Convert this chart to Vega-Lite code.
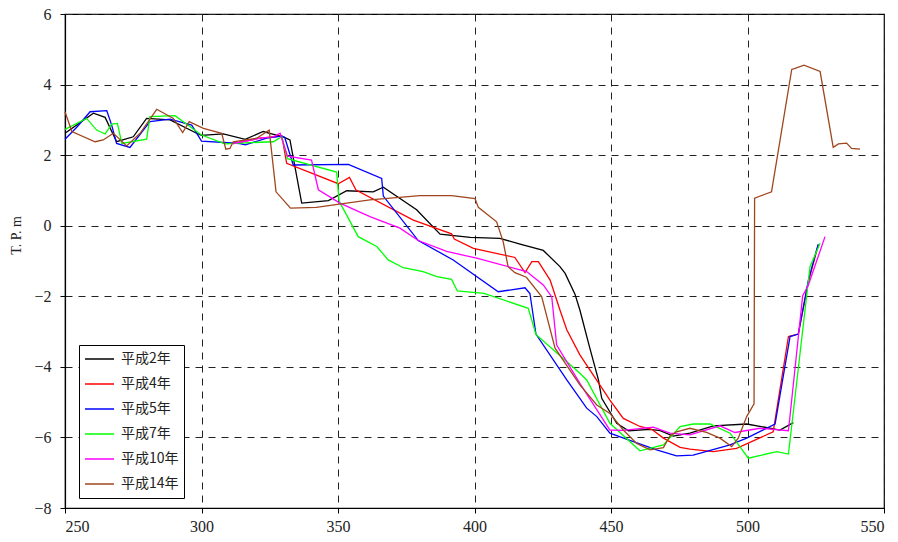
{
  "$schema": "https://vega.github.io/schema/vega-lite/v6.json",
  "width": 819,
  "height": 494,
  "autosize": {"type": "none"},
  "padding": {"left": 65, "top": 14, "right": 14, "bottom": 34},
  "background": "white",
  "config": {
    "view": {"stroke": "black", "strokeWidth": 1.2},
    "font": "Liberation Serif",
    "axis": {
      "domainColor": "black",
      "domainWidth": 1.2,
      "tickColor": "black",
      "tickSize": 5,
      "tickWidth": 1,
      "labelColor": "#222",
      "grid": true,
      "gridColor": "#222",
      "gridDash": [7, 6],
      "gridWidth": 1,
      "titleColor": "#222",
      "titleFontWeight": "normal"
    }
  },
  "data": {
    "values": [
      {"s": "平成2年", "d": 250, "h": 2.62},
      {"s": "平成2年", "d": 260.4, "h": 3.19},
      {"s": "平成2年", "d": 264.7, "h": 3.07},
      {"s": "平成2年", "d": 268.9, "h": 2.38},
      {"s": "平成2年", "d": 275, "h": 2.52},
      {"s": "平成2年", "d": 279.9, "h": 3.04},
      {"s": "平成2年", "d": 288.5, "h": 3.0},
      {"s": "平成2年", "d": 298.2, "h": 2.62},
      {"s": "平成2年", "d": 300, "h": 2.56},
      {"s": "平成2年", "d": 308, "h": 2.6},
      {"s": "平成2年", "d": 316, "h": 2.45},
      {"s": "平成2年", "d": 322.6, "h": 2.67},
      {"s": "平成2年", "d": 325, "h": 2.62},
      {"s": "平成2年", "d": 330, "h": 2.52},
      {"s": "平成2年", "d": 332.4, "h": 2.43},
      {"s": "平成2年", "d": 336.7, "h": 0.64},
      {"s": "平成2年", "d": 346.5, "h": 0.71},
      {"s": "平成2年", "d": 353.2, "h": 0.99},
      {"s": "平成2年", "d": 362.9, "h": 0.96},
      {"s": "平成2年", "d": 366.6, "h": 1.09},
      {"s": "平成2年", "d": 378.8, "h": 0.45},
      {"s": "平成2年", "d": 387.4, "h": -0.24},
      {"s": "平成2年", "d": 398.4, "h": -0.33},
      {"s": "平成2年", "d": 409.3, "h": -0.36},
      {"s": "平成2年", "d": 416.7, "h": -0.52},
      {"s": "平成2年", "d": 425.2, "h": -0.7},
      {"s": "平成2年", "d": 431.3, "h": -1.16},
      {"s": "平成2年", "d": 433.2, "h": -1.35},
      {"s": "平成2年", "d": 436.8, "h": -1.94},
      {"s": "平成2年", "d": 438.6, "h": -2.39},
      {"s": "平成2年", "d": 442, "h": -3.4},
      {"s": "平成2年", "d": 445.4, "h": -4.37},
      {"s": "平成2年", "d": 446.6, "h": -4.89},
      {"s": "平成2年", "d": 452.1, "h": -5.6},
      {"s": "平成2年", "d": 456.4, "h": -5.81},
      {"s": "平成2年", "d": 464.3, "h": -5.77},
      {"s": "平成2年", "d": 468, "h": -5.81},
      {"s": "平成2年", "d": 472.8, "h": -5.96},
      {"s": "平成2年", "d": 478.9, "h": -5.88},
      {"s": "平成2年", "d": 487.5, "h": -5.67},
      {"s": "平成2年", "d": 499.7, "h": -5.62},
      {"s": "平成2年", "d": 511.9, "h": -5.79},
      {"s": "平成2年", "d": 516.8, "h": -5.58},

      {"s": "平成4年", "d": 311.6, "h": 2.33},
      {"s": "平成4年", "d": 321.4, "h": 2.48},
      {"s": "平成4年", "d": 326.3, "h": 2.52},
      {"s": "平成4年", "d": 329.4, "h": 2.55},
      {"s": "平成4年", "d": 331.2, "h": 1.77},
      {"s": "平成4年", "d": 350.1, "h": 1.19},
      {"s": "平成4年", "d": 354.2, "h": 1.37},
      {"s": "平成4年", "d": 356.6, "h": 1.01},
      {"s": "平成4年", "d": 377.6, "h": 0.16},
      {"s": "平成4年", "d": 391.6, "h": -0.23},
      {"s": "平成4年", "d": 392.6, "h": -0.38},
      {"s": "平成4年", "d": 399.6, "h": -0.64},
      {"s": "平成4年", "d": 414.8, "h": -0.9},
      {"s": "平成4年", "d": 418.5, "h": -1.33},
      {"s": "平成4年", "d": 421, "h": -1.02},
      {"s": "平成4年", "d": 423.4, "h": -1.02},
      {"s": "平成4年", "d": 427.7, "h": -1.54},
      {"s": "平成4年", "d": 431.3, "h": -2.39},
      {"s": "平成4年", "d": 433.8, "h": -2.95},
      {"s": "平成4年", "d": 438.6, "h": -3.66},
      {"s": "平成4年", "d": 449.6, "h": -4.94},
      {"s": "平成4年", "d": 454.5, "h": -5.46},
      {"s": "平成4年", "d": 460.6, "h": -5.69},
      {"s": "平成4年", "d": 464.9, "h": -5.77},
      {"s": "平成4年", "d": 469.2, "h": -6.02},
      {"s": "平成4年", "d": 475.3, "h": -6.28},
      {"s": "平成4年", "d": 478.9, "h": -6.33},
      {"s": "平成4年", "d": 487.5, "h": -6.4},
      {"s": "平成4年", "d": 496, "h": -6.31},
      {"s": "平成4年", "d": 509.4, "h": -5.84},
      {"s": "平成4年", "d": 515, "h": -3.14},
      {"s": "平成4年", "d": 518.6, "h": -3.07},
      {"s": "平成4年", "d": 522.3, "h": -1.6},
      {"s": "平成4年", "d": 525.9, "h": -0.55},

      {"s": "平成5年", "d": 250, "h": 2.45},
      {"s": "平成5年", "d": 254.3, "h": 2.79},
      {"s": "平成5年", "d": 259.2, "h": 3.23},
      {"s": "平成5年", "d": 265.3, "h": 3.26},
      {"s": "平成5年", "d": 267.1, "h": 2.85},
      {"s": "平成5年", "d": 268.9, "h": 2.33},
      {"s": "平成5年", "d": 273.8, "h": 2.22},
      {"s": "平成5年", "d": 281.1, "h": 2.95},
      {"s": "平成5年", "d": 288.5, "h": 3.02},
      {"s": "平成5年", "d": 296.4, "h": 2.85},
      {"s": "平成5年", "d": 300, "h": 2.4},
      {"s": "平成5年", "d": 314.1, "h": 2.33},
      {"s": "平成5年", "d": 316, "h": 2.29},
      {"s": "平成5年", "d": 323.9, "h": 2.48},
      {"s": "平成5年", "d": 329.4, "h": 2.54},
      {"s": "平成5年", "d": 330.5, "h": 2.5},
      {"s": "平成5年", "d": 333.6, "h": 1.72},
      {"s": "平成5年", "d": 353.8, "h": 1.74},
      {"s": "平成5年", "d": 366, "h": 1.34},
      {"s": "平成5年", "d": 366.6, "h": 0.84},
      {"s": "平成5年", "d": 379.4, "h": -0.42},
      {"s": "平成5年", "d": 392.2, "h": -0.97},
      {"s": "平成5年", "d": 408.7, "h": -1.87},
      {"s": "平成5年", "d": 418.5, "h": -1.76},
      {"s": "平成5年", "d": 420.3, "h": -1.92},
      {"s": "平成5年", "d": 422.5, "h": -3.07},
      {"s": "平成5年", "d": 433.8, "h": -4.37},
      {"s": "平成5年", "d": 441.1, "h": -5.17},
      {"s": "平成5年", "d": 444.8, "h": -5.41},
      {"s": "平成5年", "d": 449.6, "h": -5.88},
      {"s": "平成5年", "d": 458.2, "h": -6.12},
      {"s": "平成5年", "d": 466.7, "h": -6.35},
      {"s": "平成5年", "d": 474, "h": -6.52},
      {"s": "平成5年", "d": 480.1, "h": -6.5},
      {"s": "平成5年", "d": 493.6, "h": -6.21},
      {"s": "平成5年", "d": 499.7, "h": -6.02},
      {"s": "平成5年", "d": 510.1, "h": -5.62},
      {"s": "平成5年", "d": 515.6, "h": -3.14},
      {"s": "平成5年", "d": 518.6, "h": -3.07},
      {"s": "平成5年", "d": 522.3, "h": -1.54},
      {"s": "平成5年", "d": 525.9, "h": -0.52},

      {"s": "平成7年", "d": 250, "h": 2.73},
      {"s": "平成7年", "d": 257.9, "h": 3.04},
      {"s": "平成7年", "d": 261.6, "h": 2.71},
      {"s": "平成7年", "d": 264.7, "h": 2.6},
      {"s": "平成7年", "d": 267.1, "h": 2.88},
      {"s": "平成7年", "d": 269.2, "h": 2.9},
      {"s": "平成7年", "d": 270.8, "h": 2.33},
      {"s": "平成7年", "d": 279.9, "h": 2.45},
      {"s": "平成7年", "d": 281.1, "h": 3.09},
      {"s": "平成7年", "d": 290.3, "h": 3.12},
      {"s": "平成7年", "d": 300, "h": 2.57},
      {"s": "平成7年", "d": 308.6, "h": 2.32},
      {"s": "平成7年", "d": 316.6, "h": 2.35},
      {"s": "平成7年", "d": 326.3, "h": 2.38},
      {"s": "平成7年", "d": 329.4, "h": 2.52},
      {"s": "平成7年", "d": 331.5, "h": 1.9},
      {"s": "平成7年", "d": 349.5, "h": 1.52},
      {"s": "平成7年", "d": 350.4, "h": 0.7},
      {"s": "平成7年", "d": 357.4, "h": -0.31},
      {"s": "平成7年", "d": 364.2, "h": -0.59},
      {"s": "平成7年", "d": 368.4, "h": -0.97},
      {"s": "平成7年", "d": 373.9, "h": -1.19},
      {"s": "平成7年", "d": 381.2, "h": -1.3},
      {"s": "平成7年", "d": 386.2, "h": -1.44},
      {"s": "平成7年", "d": 391.6, "h": -1.52},
      {"s": "平成7年", "d": 393.7, "h": -1.85},
      {"s": "平成7年", "d": 403.5, "h": -1.92},
      {"s": "平成7年", "d": 419.7, "h": -2.34},
      {"s": "平成7年", "d": 422.5, "h": -3.08},
      {"s": "平成7年", "d": 438.6, "h": -4.18},
      {"s": "平成7年", "d": 441.1, "h": -4.37},
      {"s": "平成7年", "d": 449.6, "h": -5.6},
      {"s": "平成7年", "d": 460.6, "h": -6.38},
      {"s": "平成7年", "d": 469.2, "h": -6.21},
      {"s": "平成7年", "d": 475.3, "h": -5.69},
      {"s": "平成7年", "d": 480.1, "h": -5.62},
      {"s": "平成7年", "d": 486.3, "h": -5.62},
      {"s": "平成7年", "d": 493.6, "h": -5.88},
      {"s": "平成7年", "d": 500.3, "h": -6.59},
      {"s": "平成7年", "d": 510.7, "h": -6.4},
      {"s": "平成7年", "d": 515, "h": -6.47},
      {"s": "平成7年", "d": 522.9, "h": -1.16},
      {"s": "平成7年", "d": 526.6, "h": -0.5},

      {"s": "平成10年", "d": 311.6, "h": 2.33},
      {"s": "平成10年", "d": 321.4, "h": 2.48},
      {"s": "平成10年", "d": 326.3, "h": 2.52},
      {"s": "平成10年", "d": 328.8, "h": 2.62},
      {"s": "平成10年", "d": 331.5, "h": 1.97},
      {"s": "平成10年", "d": 340.3, "h": 1.86},
      {"s": "平成10年", "d": 342.8, "h": 1.02},
      {"s": "平成10年", "d": 350.7, "h": 0.64},
      {"s": "平成10年", "d": 361.7, "h": 0.26},
      {"s": "平成10年", "d": 372.7, "h": -0.07},
      {"s": "平成10年", "d": 379.4, "h": -0.42},
      {"s": "平成10年", "d": 389.8, "h": -0.73},
      {"s": "平成10年", "d": 400.8, "h": -0.92},
      {"s": "平成10年", "d": 416.7, "h": -1.25},
      {"s": "平成10年", "d": 419.1, "h": -1.3},
      {"s": "平成10年", "d": 425.2, "h": -1.68},
      {"s": "平成10年", "d": 428.3, "h": -2.02},
      {"s": "平成10年", "d": 430.1, "h": -3.38},
      {"s": "平成10年", "d": 438.6, "h": -4.47},
      {"s": "平成10年", "d": 449.6, "h": -5.79},
      {"s": "平成10年", "d": 454.5, "h": -5.8},
      {"s": "平成10年", "d": 465.5, "h": -5.71},
      {"s": "平成10年", "d": 471.6, "h": -5.88},
      {"s": "平成10年", "d": 478.9, "h": -5.93},
      {"s": "平成10年", "d": 489.9, "h": -5.67},
      {"s": "平成10年", "d": 495.4, "h": -5.86},
      {"s": "平成10年", "d": 504.6, "h": -5.74},
      {"s": "平成10年", "d": 515, "h": -5.81},
      {"s": "平成10年", "d": 520.2, "h": -1.99},
      {"s": "平成10年", "d": 522.3, "h": -1.68},
      {"s": "平成10年", "d": 528.4, "h": -0.31},

      {"s": "平成14年", "d": 250, "h": 3.23},
      {"s": "平成14年", "d": 252.5, "h": 2.67},
      {"s": "平成14年", "d": 261, "h": 2.38},
      {"s": "平成14年", "d": 264, "h": 2.43},
      {"s": "平成14年", "d": 267.7, "h": 2.62},
      {"s": "平成14年", "d": 272.6, "h": 2.26},
      {"s": "平成14年", "d": 277.5, "h": 2.62},
      {"s": "平成14年", "d": 283.6, "h": 3.3},
      {"s": "平成14年", "d": 289.7, "h": 3.04},
      {"s": "平成14年", "d": 293.1, "h": 2.64},
      {"s": "平成14年", "d": 295.5, "h": 2.95},
      {"s": "平成14年", "d": 300.7, "h": 2.76},
      {"s": "平成14年", "d": 307.4, "h": 2.62},
      {"s": "平成14年", "d": 308.9, "h": 2.17},
      {"s": "平成14年", "d": 310.4, "h": 2.19},
      {"s": "平成14年", "d": 311.6, "h": 2.38},
      {"s": "平成14年", "d": 320.2, "h": 2.48},
      {"s": "平成14年", "d": 324.8, "h": 2.71},
      {"s": "平成14年", "d": 327.3, "h": 0.96},
      {"s": "平成14年", "d": 332.6, "h": 0.5},
      {"s": "平成14年", "d": 342, "h": 0.52},
      {"s": "平成14年", "d": 361.7, "h": 0.73},
      {"s": "平成14年", "d": 380, "h": 0.85},
      {"s": "平成14年", "d": 391.6, "h": 0.85},
      {"s": "平成14年", "d": 400.2, "h": 0.77},
      {"s": "平成14年", "d": 401.4, "h": 0.52},
      {"s": "平成14年", "d": 408.1, "h": 0.11},
      {"s": "平成14年", "d": 410.5, "h": -0.45},
      {"s": "平成14年", "d": 412.3, "h": -1.16},
      {"s": "平成14年", "d": 414.8, "h": -1.33},
      {"s": "平成14年", "d": 419, "h": -1.46},
      {"s": "平成14年", "d": 424.6, "h": -2.01},
      {"s": "平成14年", "d": 429.5, "h": -3.47},
      {"s": "平成14年", "d": 438.6, "h": -4.51},
      {"s": "平成14年", "d": 444.8, "h": -5.08},
      {"s": "平成14年", "d": 449.6, "h": -5.32},
      {"s": "平成14年", "d": 454.5, "h": -5.79},
      {"s": "平成14年", "d": 459.4, "h": -6.17},
      {"s": "平成14年", "d": 464.3, "h": -6.35},
      {"s": "平成14年", "d": 469.2, "h": -6.29},
      {"s": "平成14年", "d": 471.6, "h": -5.96},
      {"s": "平成14年", "d": 474, "h": -5.84},
      {"s": "平成14年", "d": 478.9, "h": -5.74},
      {"s": "平成14年", "d": 485, "h": -5.86},
      {"s": "平成14年", "d": 489.9, "h": -6.02},
      {"s": "平成14年", "d": 494.2, "h": -6.26},
      {"s": "平成14年", "d": 496.6, "h": -6.02},
      {"s": "平成14年", "d": 499.7, "h": -5.41},
      {"s": "平成14年", "d": 502.4, "h": -5.05},
      {"s": "平成14年", "d": 502.6, "h": 0.78},
      {"s": "平成14年", "d": 508.8, "h": 0.96},
      {"s": "平成14年", "d": 516.2, "h": 4.43},
      {"s": "平成14年", "d": 517.4, "h": 4.46},
      {"s": "平成14年", "d": 520.7, "h": 4.55},
      {"s": "平成14年", "d": 526.6, "h": 4.37},
      {"s": "平成14年", "d": 531.4, "h": 2.22},
      {"s": "平成14年", "d": 533.3, "h": 2.32},
      {"s": "平成14年", "d": 536.3, "h": 2.34},
      {"s": "平成14年", "d": 538.1, "h": 2.19},
      {"s": "平成14年", "d": 541.2, "h": 2.17}
    ]
  },
  "mark": {"type": "line", "strokeWidth": 1.3},
  "encoding": {
    "x": {
      "field": "d",
      "type": "quantitative",
      "scale": {"domain": [250, 550], "nice": false, "zero": false},
      "axis": {"values": [250, 300, 350, 400, 450, 500, 550], "title": null, "labelPadding": 5, "labelFont": "Liberation Serif", "labelFontSize": 16}
    },
    "y": {
      "field": "h",
      "type": "quantitative",
      "scale": {"domain": [-8, 6], "nice": false, "zero": false},
      "axis": {
        "values": [-8, -6, -4, -2, 0, 2, 4, 6],
        "title": "T. P. m",
        "titleFont": "Liberation Serif",
        "titleFontSize": 14,
        "titleY": 221,
        "titleX": -42,
        "labelPadding": 9,
        "labelFont": "Liberation Serif",
        "labelFontSize": 16
      }
    },
    "color": {
      "field": "s",
      "type": "nominal",
      "scale": {
        "domain": ["平成2年", "平成4年", "平成5年", "平成7年", "平成10年", "平成14年"],
        "range": ["#000000", "#ff0000", "#0000ff", "#00ff00", "#ff00ff", "#a0461e"]
      },
      "legend": {
        "title": null,
        "orient": "none",
        "legendX": 14,
        "legendY": 331,
        "fillColor": "white",
        "strokeColor": "black",
        "padding": 5,
        "clipHeight": 18,
        "symbolType": "stroke",
        "symbolSize": 841,
        "symbolStrokeWidth": 1.5,
        "labelFont": "Noto Sans CJK JP",
        "labelFontSize": 14,
        "labelColor": "#222",
        "rowPadding": 7,
        "labelOffset": 6
      }
    }
  }
}
